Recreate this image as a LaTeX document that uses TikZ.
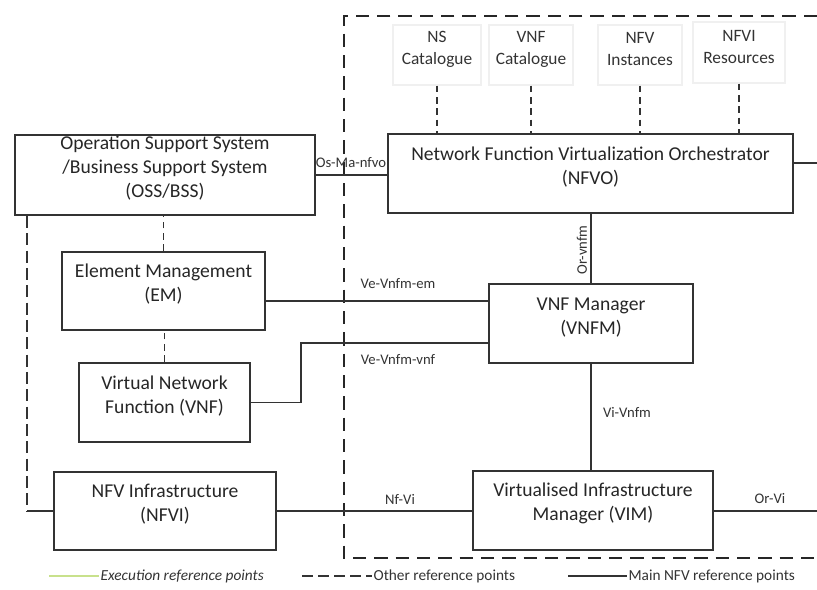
\documentclass[tikz,border=0pt]{standalone}
\usepackage{fontspec}
\setmainfont{Carlito}
\usetikzlibrary{fit,calc}
\begin{document}
\begin{tikzpicture}[x=0.75pt,y=-0.75pt,
  box/.style={draw=black!80, line width=1.3pt, inner sep=0pt, align=center,
    text=black!85, font=\fontsize{14.7}{18}\selectfont},
  store/.style={draw=black!6, line width=1pt, inner sep=0pt, align=center,
    text=black!80, font=\fontsize{13}{16.5}\selectfont},
  link/.style={draw=black!80, line width=1pt},
  other/.style={draw=black!80, line width=1.4pt, dash pattern=on 5pt off 3.5pt},
  mgmtframe/.style={draw=black!85, line width=2.1pt, dash pattern=on 10pt off 6pt},
  rp/.style={font=\fontsize{11}{13}\selectfont, text=black!80, inner sep=1pt},
  legend/.style={font=\fontsize{11.5}{13}\selectfont, text=black!80, anchor=west, inner sep=1pt}]

\useasboundingbox (0,0) rectangle (817,589);

% management domain (dashed frame)
\draw[mgmtframe] (817,16) -- (344,16) -- (344,558) -- (817,558);

% data repositories
\node[store, fit={(393,25)(481,85)}] (ns) {NS\\Catalogue};
\node[store, fit={(489,25)(573,85)}] (vnfc) {VNF\\Catalogue};
\node[store, fit={(598,25)(682,85)}] (inst) {NFV\\Instances};
\node[store, fit={(693,22)(785,83)}] (res) {NFVI\\Resources};

% functional blocks
\node[box, fit={(15,135)(315,215)}] (oss) {Operation Support System\\/Business Support System\\(OSS/BSS)};
\node[box, fit={(388,134)(793,213)}] (nfvo) {Network Function Virtualization Orchestrator\\(NFVO)};
\node[box, fit={(62,252)(265,330)}] (em) {Element Management\\(EM)};
\node[box, fit={(79,363)(250,442)}] (vnf) {Virtual Network\\Function (VNF)};
\node[box, fit={(54,472)(276,550)}] (nfvi) {NFV Infrastructure\\(NFVI)};
\node[box, fit={(489,284)(693,363)}] (vnfm) {VNF Manager\\(VNFM)};
\node[box, fit={(473,471)(713,550)}] (vim) {Virtualised Infrastructure\\Manager (VIM)};

% free ends and attachment points
\coordinate (nfvoOut) at (817,163);
\coordinate (vimOut) at (817,511);
\coordinate (corner) at (27,511);
\coordinate (emPort) at ($(em.east)+(0,10)$);
\coordinate (vnfmPort) at ($(vnfm.west)+(0,19.5)$);

% repository links
\foreach \s in {ns,vnfc,inst,res}
  \draw[other] (\s.south) -- (\s.south |- nfvo.north);

% other reference points
\draw[other] (em.north) -- (em.north |- oss.south);
\draw[other] (vnf.north) -- (vnf.north |- em.south);
\draw[other, dash pattern=on 9pt off 4pt] (corner |- oss.south) -- (corner);

% main reference points
\draw[link] (corner) -- (nfvi.west);
\draw[link] (oss.east) -- (oss.east -| nfvo.west);
\draw[link] (nfvo.east |- nfvoOut) -- (nfvoOut);
\draw[link] (vnfm.north) -- (vnfm.north |- nfvo.south);
\draw[link] (vnfm.south) -- (vnfm.south |- vim.north);
\draw[link] (emPort) -- (emPort -| vnfm.west);
\draw[link] (vnf.east) -- ++(50,0) |- (vnfmPort);
\draw[link] (nfvi.east) -- (nfvi.east -| vim.west);
\draw[link] (vim.east) -- (vim.east |- vimOut) -- (vimOut);

% reference point labels
\node[rp] (osma) at (351,163) {Os-Ma-nfvo};
\node[rp, rotate=90] (orvnfm) at (582,250) {Or-vnfm};
\node[rp] (veem) at (398,284) {Ve-Vnfm-em};
\node[rp] (vevnf) at (398,360) {Ve-Vnfm-vnf};
\node[rp] (vivnfm) at (627,412) {Vi-Vnfm};
\node[rp] (nfvilbl) at (400,499) {Nf-Vi};
\node[rp] (orvi) at (770,498) {Or-Vi};

% legend
\node[legend, font=\fontsize{11.5}{13}\selectfont\itshape] (lgexec) at (99,576) {Execution reference points};
\node[legend] (lgother) at (372,576) {Other reference points};
\node[legend] (lgmain) at (627,576) {Main NFV reference points};
\coordinate (lgA) at (49,576);
\coordinate (lgB) at (302,576);
\coordinate (lgC) at (568,576);
\draw[line width=1.2pt, draw={rgb,255:red,200;green,225;blue,140}] (lgA) -- (lgexec.west);
\draw[draw=black!80, line width=1.1pt, dash pattern=on 8pt off 4pt] (lgB) -- (lgother.west);
\draw[link] (lgC) -- (lgmain.west);
\end{tikzpicture}
\end{document}
